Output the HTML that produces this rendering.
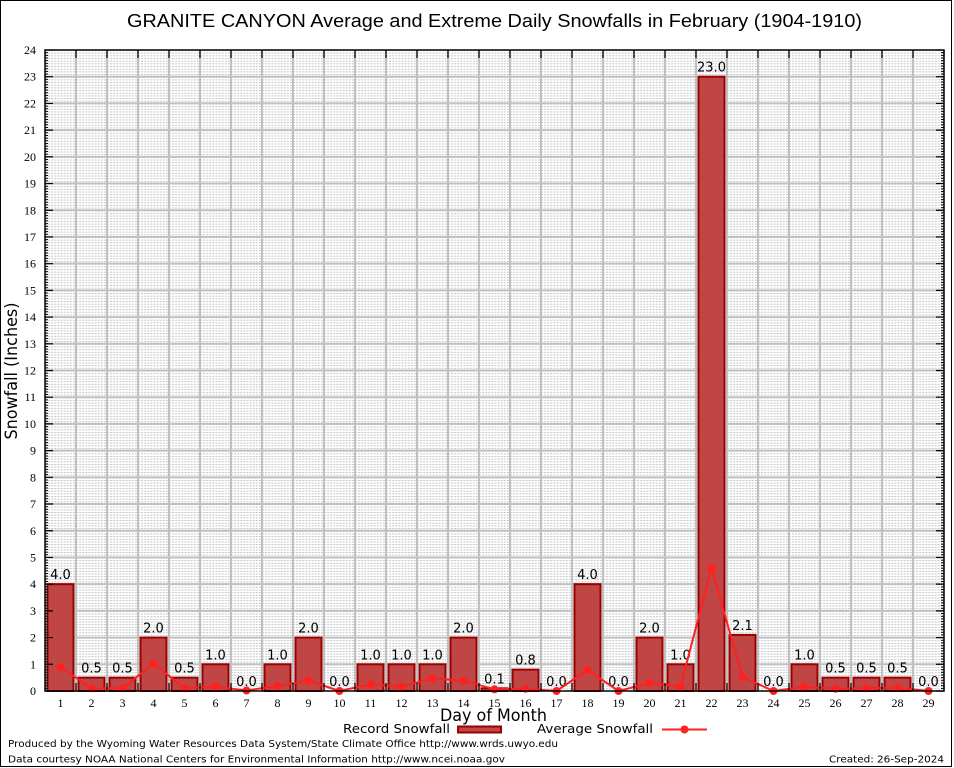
<!DOCTYPE html>
<html>
<head>
<meta charset="utf-8">
<style>
html,body{margin:0;padding:0;background:#fff;}
svg{display:block;}
</style>
</head>
<body>
<svg width="954" height="768" viewBox="0 0 954 768" xmlns="http://www.w3.org/2000/svg">
<defs>
  <pattern id="mg" x="45" y="50" width="3.1" height="2.6708" patternUnits="userSpaceOnUse">
    <rect x="0" y="0" width="2" height="1" fill="#c4c4c4"/>
  </pattern>
</defs>
<rect x="0" y="0" width="954" height="768" fill="#fff"/>
<rect x="0.5" y="0.5" width="951" height="766" fill="none" stroke="#000" stroke-width="1"/>

<!-- title -->
<text x="494.5" y="27" font-family="Liberation Sans, Arial, sans-serif" font-size="18" text-anchor="middle" textLength="735" lengthAdjust="spacingAndGlyphs" fill="#000">GRANITE CANYON Average and Extreme Daily Snowfalls in February (1904-1910)</text>

<!-- plot background minor grid -->
<rect x="45" y="50" width="899" height="641" fill="url(#mg)"/>

<!-- major grid -->
<g stroke="#c0c0c0" stroke-width="2">
  <line x1="76" y1="50" x2="76" y2="691"/><line x1="107" y1="50" x2="107" y2="691"/>
  <line x1="138" y1="50" x2="138" y2="691"/><line x1="169" y1="50" x2="169" y2="691"/>
  <line x1="200" y1="50" x2="200" y2="691"/><line x1="231" y1="50" x2="231" y2="691"/>
  <line x1="262" y1="50" x2="262" y2="691"/><line x1="293" y1="50" x2="293" y2="691"/>
  <line x1="324" y1="50" x2="324" y2="691"/><line x1="355" y1="50" x2="355" y2="691"/>
  <line x1="386" y1="50" x2="386" y2="691"/><line x1="417" y1="50" x2="417" y2="691"/>
  <line x1="448" y1="50" x2="448" y2="691"/><line x1="479" y1="50" x2="479" y2="691"/>
  <line x1="510" y1="50" x2="510" y2="691"/><line x1="541" y1="50" x2="541" y2="691"/>
  <line x1="572" y1="50" x2="572" y2="691"/><line x1="603" y1="50" x2="603" y2="691"/>
  <line x1="634" y1="50" x2="634" y2="691"/><line x1="665" y1="50" x2="665" y2="691"/>
  <line x1="696" y1="50" x2="696" y2="691"/><line x1="727" y1="50" x2="727" y2="691"/>
  <line x1="758" y1="50" x2="758" y2="691"/><line x1="789" y1="50" x2="789" y2="691"/>
  <line x1="820" y1="50" x2="820" y2="691"/><line x1="851" y1="50" x2="851" y2="691"/>
  <line x1="882" y1="50" x2="882" y2="691"/><line x1="913" y1="50" x2="913" y2="691"/>

  <line x1="45" y1="664.29" x2="944" y2="664.29"/><line x1="45" y1="637.58" x2="944" y2="637.58"/>
  <line x1="45" y1="610.88" x2="944" y2="610.88"/><line x1="45" y1="584.17" x2="944" y2="584.17"/>
  <line x1="45" y1="557.46" x2="944" y2="557.46"/><line x1="45" y1="530.75" x2="944" y2="530.75"/>
  <line x1="45" y1="504.04" x2="944" y2="504.04"/><line x1="45" y1="477.34" x2="944" y2="477.34"/>
  <line x1="45" y1="450.63" x2="944" y2="450.63"/><line x1="45" y1="423.92" x2="944" y2="423.92"/>
  <line x1="45" y1="397.21" x2="944" y2="397.21"/><line x1="45" y1="370.50" x2="944" y2="370.50"/>
  <line x1="45" y1="343.80" x2="944" y2="343.80"/><line x1="45" y1="317.09" x2="944" y2="317.09"/>
  <line x1="45" y1="290.38" x2="944" y2="290.38"/><line x1="45" y1="263.67" x2="944" y2="263.67"/>
  <line x1="45" y1="236.96" x2="944" y2="236.96"/><line x1="45" y1="210.26" x2="944" y2="210.26"/>
  <line x1="45" y1="183.55" x2="944" y2="183.55"/><line x1="45" y1="156.84" x2="944" y2="156.84"/>
  <line x1="45" y1="130.13" x2="944" y2="130.13"/><line x1="45" y1="103.42" x2="944" y2="103.42"/>
  <line x1="45" y1="76.71" x2="944" y2="76.71"/>
</g>

<!-- bars -->
<g fill="#c04646" stroke="#9a0000" stroke-width="2">
  <rect x="47.5" y="584.17" width="26" height="106.83"/>
  <rect x="78.5" y="677.65" width="26" height="13.35"/>
  <rect x="109.5" y="677.65" width="26" height="13.35"/>
  <rect x="140.5" y="637.58" width="26" height="53.42"/>
  <rect x="171.5" y="677.65" width="26" height="13.35"/>
  <rect x="202.5" y="664.29" width="26" height="26.71"/>
  <rect x="264.5" y="664.29" width="26" height="26.71"/>
  <rect x="295.5" y="637.58" width="26" height="53.42"/>
  <rect x="357.5" y="664.29" width="26" height="26.71"/>
  <rect x="388.5" y="664.29" width="26" height="26.71"/>
  <rect x="419.5" y="664.29" width="26" height="26.71"/>
  <rect x="450.5" y="637.58" width="26" height="53.42"/>
  <rect x="481.5" y="688.33" width="26" height="2.67"/>
  <rect x="512.5" y="669.63" width="26" height="21.37"/>
  <rect x="574.5" y="584.17" width="26" height="106.83"/>
  <rect x="636.5" y="637.58" width="26" height="53.42"/>
  <rect x="667.5" y="664.29" width="26" height="26.71"/>
  <rect x="698.5" y="76.71" width="26" height="614.29"/>
  <rect x="729.5" y="634.91" width="26" height="56.09"/>
  <rect x="791.5" y="664.29" width="26" height="26.71"/>
  <rect x="822.5" y="677.65" width="26" height="13.35"/>
  <rect x="853.5" y="677.65" width="26" height="13.35"/>
  <rect x="884.5" y="677.65" width="26" height="13.35"/>
</g>

<!-- bar labels -->
<g font-family="DejaVu Sans, Liberation Sans, sans-serif" font-size="13" text-anchor="middle" fill="#000">
  <text x="60.5" y="579">4.0</text>
  <text x="91.5" y="672.5">0.5</text>
  <text x="122.5" y="672.5">0.5</text>
  <text x="153.5" y="632.5">2.0</text>
  <text x="184.5" y="672.5">0.5</text>
  <text x="215.5" y="659.3">1.0</text>
  <text x="246.5" y="686">0.0</text>
  <text x="277.5" y="659.3">1.0</text>
  <text x="308.5" y="632.5">2.0</text>
  <text x="339.5" y="686">0.0</text>
  <text x="370.5" y="659.3">1.0</text>
  <text x="401.5" y="659.3">1.0</text>
  <text x="432.5" y="659.3">1.0</text>
  <text x="463.5" y="632.5">2.0</text>
  <text x="494.5" y="683.3">0.1</text>
  <text x="525.5" y="664.6">0.8</text>
  <text x="556.5" y="686">0.0</text>
  <text x="587.5" y="579">4.0</text>
  <text x="618.5" y="686">0.0</text>
  <text x="649.5" y="632.5">2.0</text>
  <text x="680.5" y="659.3">1.0</text>
  <text x="711.5" y="71.7">23.0</text>
  <text x="742.5" y="629.9">2.1</text>
  <text x="773.5" y="686">0.0</text>
  <text x="804.5" y="659.3">1.0</text>
  <text x="835.5" y="672.5">0.5</text>
  <text x="866.5" y="672.5">0.5</text>
  <text x="897.5" y="672.5">0.5</text>
  <text x="928.5" y="686">0.0</text>
</g>

<!-- average line -->
<polyline fill="none" stroke="#ff2020" stroke-width="2" stroke-linejoin="round" points="60.5,667.2 91.5,688.3 122.5,688.3 153.5,663.5 184.5,688.3 215.5,686.7 246.5,690.5 277.5,686 308.5,680.6 339.5,691 370.5,684.3 401.5,686.7 432.5,678.3 463.5,680.7 494.5,689.3 525.5,688.7 556.5,691 587.5,670 618.5,691 649.5,683 680.5,686.5 711.5,568 742.5,677 773.5,691 804.5,686.7 835.5,688.7 866.5,688.3 897.5,687.7 928.5,691"/>
<g fill="#ff2020">
  <circle cx="60.5" cy="667.2" r="4"/><circle cx="91.5" cy="688.3" r="4"/>
  <circle cx="122.5" cy="688.3" r="4"/><circle cx="153.5" cy="663.5" r="4"/>
  <circle cx="184.5" cy="688.3" r="4"/><circle cx="215.5" cy="686.7" r="4"/>
  <circle cx="246.5" cy="690.5" r="4"/><circle cx="277.5" cy="686" r="4"/>
  <circle cx="308.5" cy="680.6" r="4"/><circle cx="339.5" cy="691" r="4"/>
  <circle cx="370.5" cy="684.3" r="4"/><circle cx="401.5" cy="686.7" r="4"/>
  <circle cx="432.5" cy="678.3" r="4"/><circle cx="463.5" cy="680.7" r="4"/>
  <circle cx="494.5" cy="689.3" r="4"/><circle cx="525.5" cy="688.7" r="4"/>
  <circle cx="556.5" cy="691" r="4"/><circle cx="587.5" cy="670" r="4"/>
  <circle cx="618.5" cy="691" r="4"/><circle cx="649.5" cy="683" r="4"/>
  <circle cx="680.5" cy="686.5" r="4"/><circle cx="711.5" cy="568" r="4"/>
  <circle cx="742.5" cy="677" r="4"/><circle cx="773.5" cy="691" r="4"/>
  <circle cx="804.5" cy="686.7" r="4"/><circle cx="835.5" cy="688.7" r="4"/>
  <circle cx="866.5" cy="688.3" r="4"/><circle cx="897.5" cy="687.7" r="4"/>
  <circle cx="928.5" cy="691" r="4"/>
</g>

<!-- frame and ticks -->
<rect x="45" y="50" width="899" height="641" fill="none" stroke="#000" stroke-width="1.5"/>
<g stroke="#000" fill="none">
  <line x1="46.5" y1="50" x2="46.5" y2="691" stroke-width="3" stroke-dasharray="1 1.6708" stroke-dashoffset="0.5"/>
  <line x1="49" y1="50" x2="49" y2="692" stroke-width="8" stroke-dasharray="1.2 25.508" stroke-dashoffset="0.6"/>
  <line x1="942.5" y1="50" x2="942.5" y2="691" stroke-width="3" stroke-dasharray="1 1.6708" stroke-dashoffset="0.5"/>
  <line x1="940" y1="50" x2="940" y2="692" stroke-width="8" stroke-dasharray="1.2 25.508" stroke-dashoffset="0.6"/>
  <line x1="45" y1="54" x2="945" y2="54" stroke-width="8" stroke-dasharray="1.2 29.8" stroke-dashoffset="0.6"/>
  <line x1="45" y1="687" x2="945" y2="687" stroke-width="8" stroke-dasharray="1.2 29.8" stroke-dashoffset="0.6"/>
</g>

<!-- y tick labels -->
<g font-family="Liberation Serif, Times New Roman, serif" font-size="12" text-anchor="end" fill="#000">
  <text x="36" y="695">0</text><text x="36" y="668.3">1</text><text x="36" y="641.6">2</text>
  <text x="36" y="614.9">3</text><text x="36" y="588.2">4</text><text x="36" y="561.5">5</text>
  <text x="36" y="534.8">6</text><text x="36" y="508">7</text><text x="36" y="481.3">8</text>
  <text x="36" y="454.6">9</text><text x="36" y="427.9">10</text><text x="36" y="401.2">11</text>
  <text x="36" y="374.5">12</text><text x="36" y="347.8">13</text><text x="36" y="321.1">14</text>
  <text x="36" y="294.4">15</text><text x="36" y="267.7">16</text><text x="36" y="241">17</text>
  <text x="36" y="214.3">18</text><text x="36" y="187.5">19</text><text x="36" y="160.8">20</text>
  <text x="36" y="134.1">21</text><text x="36" y="107.4">22</text><text x="36" y="80.7">23</text>
  <text x="36" y="54">24</text>
</g>

<!-- x tick labels -->
<g font-family="Liberation Serif, Times New Roman, serif" font-size="12" text-anchor="middle" fill="#000">
  <text x="60.5" y="707">1</text><text x="91.5" y="707">2</text><text x="122.5" y="707">3</text>
  <text x="153.5" y="707">4</text><text x="184.5" y="707">5</text><text x="215.5" y="707">6</text>
  <text x="246.5" y="707">7</text><text x="277.5" y="707">8</text><text x="308.5" y="707">9</text>
  <text x="339.5" y="707">10</text><text x="370.5" y="707">11</text><text x="401.5" y="707">12</text>
  <text x="432.5" y="707">13</text><text x="463.5" y="707">14</text><text x="494.5" y="707">15</text>
  <text x="525.5" y="707">16</text><text x="556.5" y="707">17</text><text x="587.5" y="707">18</text>
  <text x="618.5" y="707">19</text><text x="649.5" y="707">20</text><text x="680.5" y="707">21</text>
  <text x="711.5" y="707">22</text><text x="742.5" y="707">23</text><text x="773.5" y="707">24</text>
  <text x="804.5" y="707">25</text><text x="835.5" y="707">26</text><text x="866.5" y="707">27</text>
  <text x="897.5" y="707">28</text><text x="928.5" y="707">29</text>
</g>

<!-- axis titles -->
<text x="493.5" y="721" font-family="DejaVu Sans, Liberation Sans, sans-serif" font-size="16.5" text-anchor="middle" textLength="107" lengthAdjust="spacingAndGlyphs" fill="#000">Day of Month</text>
<text transform="translate(17,371) rotate(-90)" x="0" y="0" font-family="DejaVu Sans, Liberation Sans, sans-serif" font-size="16.5" text-anchor="middle" textLength="137" lengthAdjust="spacingAndGlyphs" fill="#000">Snowfall (Inches)</text>

<!-- legend -->
<text x="343" y="733" font-family="DejaVu Sans, Liberation Sans, sans-serif" font-size="12" textLength="107" lengthAdjust="spacingAndGlyphs" fill="#000">Record Snowfall</text>
<rect x="458" y="726.5" width="43" height="6" fill="#c04646" stroke="#9a0000" stroke-width="2"/>
<text x="537" y="733" font-family="DejaVu Sans, Liberation Sans, sans-serif" font-size="12" textLength="116" lengthAdjust="spacingAndGlyphs" fill="#000">Average Snowfall</text>
<line x1="662" y1="729.5" x2="707" y2="729.5" stroke="#ff2020" stroke-width="2"/>
<circle cx="684.5" cy="729.5" r="4" fill="#ff2020"/>

<!-- footer -->
<text x="8" y="747" font-family="DejaVu Sans, Liberation Sans, sans-serif" font-size="10" textLength="550" lengthAdjust="spacingAndGlyphs" fill="#000">Produced by the Wyoming Water Resources Data System/State Climate Office http://www.wrds.uwyo.edu</text>
<text x="8" y="762.5" font-family="DejaVu Sans, Liberation Sans, sans-serif" font-size="10" textLength="497" lengthAdjust="spacingAndGlyphs" fill="#000">Data courtesy NOAA National Centers for Environmental Information http://www.ncei.noaa.gov</text>
<text x="944" y="762.5" font-family="DejaVu Sans, Liberation Sans, sans-serif" font-size="10" text-anchor="end" textLength="115" lengthAdjust="spacingAndGlyphs" fill="#000">Created: 26-Sep-2024</text>
</svg>
</body>
</html>
